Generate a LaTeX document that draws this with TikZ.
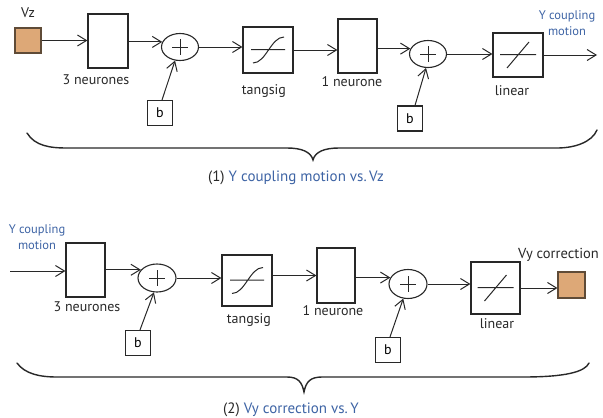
\documentclass[tikz,border=0pt]{standalone}
\usepackage{fontspec}
\setmainfont{PT Sans}
\usetikzlibrary{arrows.meta,shapes.geometric}
\definecolor{capblue}{RGB}{62,100,165}
\definecolor{srcfill}{RGB}{221,168,119}
\definecolor{srcedge}{RGB}{95,75,55}
\definecolor{ink}{RGB}{40,40,40}
\begin{document}
\begin{tikzpicture}[x=1pt,y=-1pt,
  blk/.style args={#1x#2}{draw=ink,line width=1.2pt,inner sep=0pt,
    minimum width=#1pt,minimum height=#2pt},
  sumnode/.style={draw=ink,line width=1.1pt,ellipse,inner sep=0pt,
    minimum width=37pt,minimum height=27pt,
    path picture={
      \draw[ink,line width=1pt]
        ([shift={(-8,0.5)}]path picture bounding box.center) -- ([shift={(8,0.5)}]path picture bounding box.center)
        ([shift={(0.5,-8)}]path picture bounding box.center) -- ([shift={(0.5,8)}]path picture bounding box.center);}},
  sigicon/.style={path picture={
      \draw[ink,line width=1pt]
        ([shift={(-17,-0.5)}]path picture bounding box.center) -- ([shift={(17,-0.5)}]path picture bounding box.center)
        ([shift={(-15,13)}]path picture bounding box.center)
          .. controls +(13,0) and +(-13,0) ..
        ([shift={(16,-13)}]path picture bounding box.center);}},
  linicon/.style={path picture={
      \draw[ink,line width=1pt]
        ([shift={(-18,-0.5)}]path picture bounding box.center) -- ([shift={(18,-0.5)}]path picture bounding box.center)
        ([shift={(-11,13)}]path picture bounding box.center) -- ([shift={(11,-13)}]path picture bounding box.center);}},
  biasbox/.style={draw=ink,line width=1.1pt,minimum size=25pt,inner sep=0pt,
    font=\fontsize{14}{14}\selectfont},
  srcbox/.style={draw=srcedge,fill=srcfill,line width=1.1pt,inner sep=0pt,
    minimum width=26pt,minimum height=25pt},
  lbl/.style={font=\fontsize{14}{16}\selectfont,text=ink,inner sep=0pt},
  bluelbl/.style={font=\fontsize{12.5}{16}\selectfont,inner sep=0pt,text=capblue,align=center},
  caption/.style={font=\fontsize{15}{16}\selectfont,text=ink,inner sep=0pt},
  flow/.style={draw=ink,line width=1pt,-{Straight Barb[length=9pt,width=11pt,line width=1pt]}},
  bracestroke/.style={draw=ink,line width=1.4pt,line cap=round}]

\clip (0,0) rectangle (603,418);
\fill[white] (0,0) rectangle (603,418);

% ---------- (1) Y coupling motion vs. Vz ----------
\node[srcbox] (vz) at (28,40.5) {};
\node[lbl] (vzl) at (28,13) {Vz};
\node[blk=40x54] (n3) at (108,41) {};
\node[lbl] (n3l) at (96,80) {3 neurones};
\node[sumnode] (s1) at (180,47) {};
\node[biasbox] (b1) at (160,113) {b};
\node[blk=50x46,sigicon] (tg) at (268,50) {};
\node[lbl] (tgl) at (264,91) {tangsig};
\node[blk=39x54] (n1) at (357.5,46) {};
\node[lbl] (n1l) at (352,82) {1 neurone};
\node[sumnode] (s2) at (428,54) {};
\node[biasbox] (b2) at (410,118.5) {b};
\node[blk=50x44,linicon] (lin) at (518,55) {};
\node[lbl] (linl) at (512,91) {linear};
\coordinate (out1) at (597,55);
\node[bluelbl] (yout) at (567,23) {Y coupling\\motion};

\draw[flow] (vz.east) -- (vz.east -| n3.west);
\draw[flow] (n3.east |- s1.164) -- (s1.164);
\draw[flow] ([xshift=2pt]b1.north) -- (s1.250);
\draw[flow] (s1.east) -- (s1.east -| tg.west);
\draw[flow] (tg.east) -- (tg.east -| n1.west);
\draw[flow] (n1.east |- s2.163) -- (s2.163);
\draw[flow] ([xshift=5pt]b2.north) -- (s2.262);
\draw[flow] (s2.east) -- (s2.east -| lin.west);
\draw[flow] (lin.east) -- (out1);

\draw[bracestroke] (27,133) .. controls (35,146) and (50,148) .. (67,148)
  -- (287,148) .. controls (302,148) and (311,152) .. (313,160)
  .. controls (315,152) and (324,148) .. (339,148)
  -- (557,148) .. controls (575,148) and (592,142) .. (597,130);
\node[caption] (cap1) at (296,178) {(1)\ \textcolor{capblue}{Y coupling motion vs.\,Vz}};

% ---------- (2) Vy correction vs. Y ----------
\node[bluelbl] (yin) at (37,237) {Y coupling\\motion};
\coordinate (in2) at (10,271);
\node[blk=39x54] (m3) at (85.5,270) {};
\node[lbl] (m3l) at (87,307) {3 neurones};
\node[sumnode,minimum width=38pt,minimum height=28pt] (t1) at (157,278) {};
\node[biasbox] (c1) at (138,343) {b};
\node[blk=50x51,sigicon] (tgb) at (247,280.5) {};
\node[lbl] (tgbl) at (249,320) {tangsig};
\node[blk=38x55] (m1) at (336,275.5) {};
\node[lbl] (m1l) at (333,311) {1 neurone};
\node[sumnode,minimum width=38pt,minimum height=29pt] (t2) at (408,284) {};
\node[biasbox] (c2) at (388,350) {b};
\node[blk=49x52,linicon] (linb) at (495.5,288) {};
\node[lbl] (linbl) at (497,324) {linear};
\node[srcbox,minimum width=27pt,minimum height=26pt] (vy) at (571.5,285) {};
\node[lbl,anchor=west,font=\fontsize{14.5}{16}\selectfont] (vyl) at (518,255) {Vy correction};

\draw[flow] (in2) -- (in2 -| m3.west);
\draw[flow] (m3.east |- t1.153) -- (t1.153);
\draw[flow] ([xshift=2pt]c1.north) -- (t1.258);
\draw[flow] (t1.east) -- (t1.east -| tgb.west);
\draw[flow] (tgb.east |- m1.east) -- (m1.west |- m1.east);
\draw[flow] (m1.east |- t2.160) -- (t2.160);
\draw[flow] ([xshift=2pt]c2.north) -- (t2.252);
\draw[flow] (t2.east) -- (t2.east -| linb.west);
\draw[flow] (linb.east) -- (linb.east -| vy.west);

\draw[bracestroke] (17,363) .. controls (25,374) and (40,377) .. (57,377)
  -- (287,377) .. controls (298,377) and (302,382) .. (304,392)
  .. controls (306,382) and (310,377) .. (322,377)
  -- (523,377) .. controls (565,377) and (585,372) .. (589,363);
\node[caption] (cap2) at (291,410) {(2)\ \textcolor{capblue}{Vy correction vs.\,Y}};
\end{tikzpicture}
\end{document}
